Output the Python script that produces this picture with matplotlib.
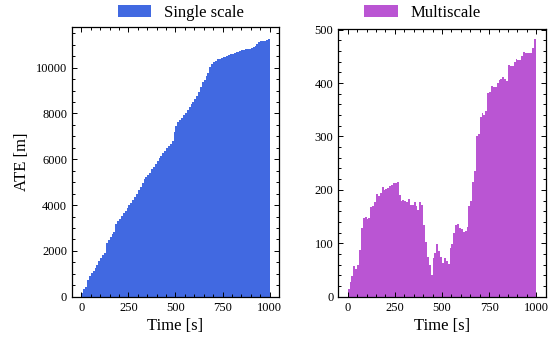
import matplotlib
matplotlib.use("Agg")
import matplotlib.pyplot as plt
from matplotlib.ticker import MultipleLocator, AutoMinorLocator
import numpy as np

plt.rcParams['font.family'] = ['Liberation Serif', 'DejaVu Serif']
plt.rcParams['mathtext.fontset'] = 'stix'

# time bins (s), 10 s wide
bin_edges = list(range(0, 1010, 10))

single_scale = [
    162, 321, 437, 741, 901, 1016, 1103, 1248, 1379, 1553,
    1697, 1799, 1900, 2364, 2480, 2610, 2741, 2828, 3161, 3291,
    3407, 3538, 3654, 3755, 3856, 3987, 4074, 4233, 4349, 4494,
    4639, 4784, 4972, 5117, 5219, 5320, 5421, 5581, 5668, 5784,
    5929, 6044, 6146, 6262, 6378, 6479, 6581, 6668, 6798, 7175,
    7450, 7609, 7725, 7783, 7928, 8030, 8160, 8290, 8406, 8522,
    8653, 8783, 8928, 9174, 9377, 9464, 9624, 9754, 10015, 10145,
    10232, 10305, 10362, 10391, 10420, 10449, 10478, 10507, 10536, 10580,
    10609, 10652, 10681, 10696, 10725, 10754, 10783, 10797, 10812, 10826,
    10855, 10899, 10942, 11029, 11130, 11159, 11174, 11174, 11203, 11232,
]

multiscale = [
    14, 28, 39, 57, 51, 59, 87, 128, 148, 149,
    145, 147, 167, 170, 178, 192, 189, 194, 206, 199,
    201, 203, 207, 210, 212, 213, 214, 190, 179, 181,
    180, 178, 183, 172, 172, 177, 170, 162, 178, 172,
    134, 103, 75, 59, 40, 72, 81, 99, 86, 74,
    64, 72, 67, 62, 91, 98, 119, 134, 136, 129,
    127, 121, 123, 130, 169, 179, 214, 236, 300, 305,
    337, 343, 341, 348, 381, 384, 395, 393, 392, 400,
    406, 408, 412, 407, 404, 434, 431, 431, 440, 445,
    444, 444, 450, 458, 456, 456, 456, 456, 465, 482,
]

labels = ["Single scale", "Multiscale"]
colors = ["royalblue", "mediumorchid"]

fig = plt.figure(figsize=(5.48, 3.44), dpi=100)
ax1 = fig.add_axes([0.1314, 0.1375, 0.3777, 0.785])
ax2 = fig.add_axes([0.6173, 0.1375, 0.3785, 0.778])

for ax, vals, lab, col in [(ax1, single_scale, labels[0], colors[0]),
                           (ax2, multiscale, labels[1], colors[1])]:
    ax.stairs(vals, bin_edges, fill=True, color=col, label=lab, linewidth=0)
    ax.set_xlim(-50, 1050)
    ax.xaxis.set_major_locator(MultipleLocator(250))
    ax.xaxis.set_minor_locator(AutoMinorLocator())
    ax.yaxis.set_minor_locator(AutoMinorLocator())
    ax.tick_params(which='both', direction='in', top=True, right=True,
                   labelsize=9, width=0.7)
    ax.tick_params(which='major', length=3.5)
    ax.tick_params(which='minor', length=2)
    for s in ax.spines.values():
        s.set_linewidth(0.9)
    ax.set_xlabel("Time [s]", fontsize=12, labelpad=3)

ax1.set_ylim(0, 11790)
ax1.yaxis.set_major_locator(MultipleLocator(2000))
ax2.set_ylim(0, 501)
ax2.yaxis.set_major_locator(MultipleLocator(100))
ax1.set_ylabel("ATE [m]", fontsize=12)

fig.legend(handles=[ax1.patches[0]], labels=[labels[0]], loc='center',
           bbox_to_anchor=(0.3303, 0.962), frameon=False, fontsize=12,
           borderpad=0, borderaxespad=0)
fig.legend(handles=[ax2.patches[0]], labels=[labels[1]], loc='center',
           bbox_to_anchor=(0.7715, 0.962), frameon=False, fontsize=12,
           borderpad=0, borderaxespad=0)

fig.savefig("out.png", dpi=100)
